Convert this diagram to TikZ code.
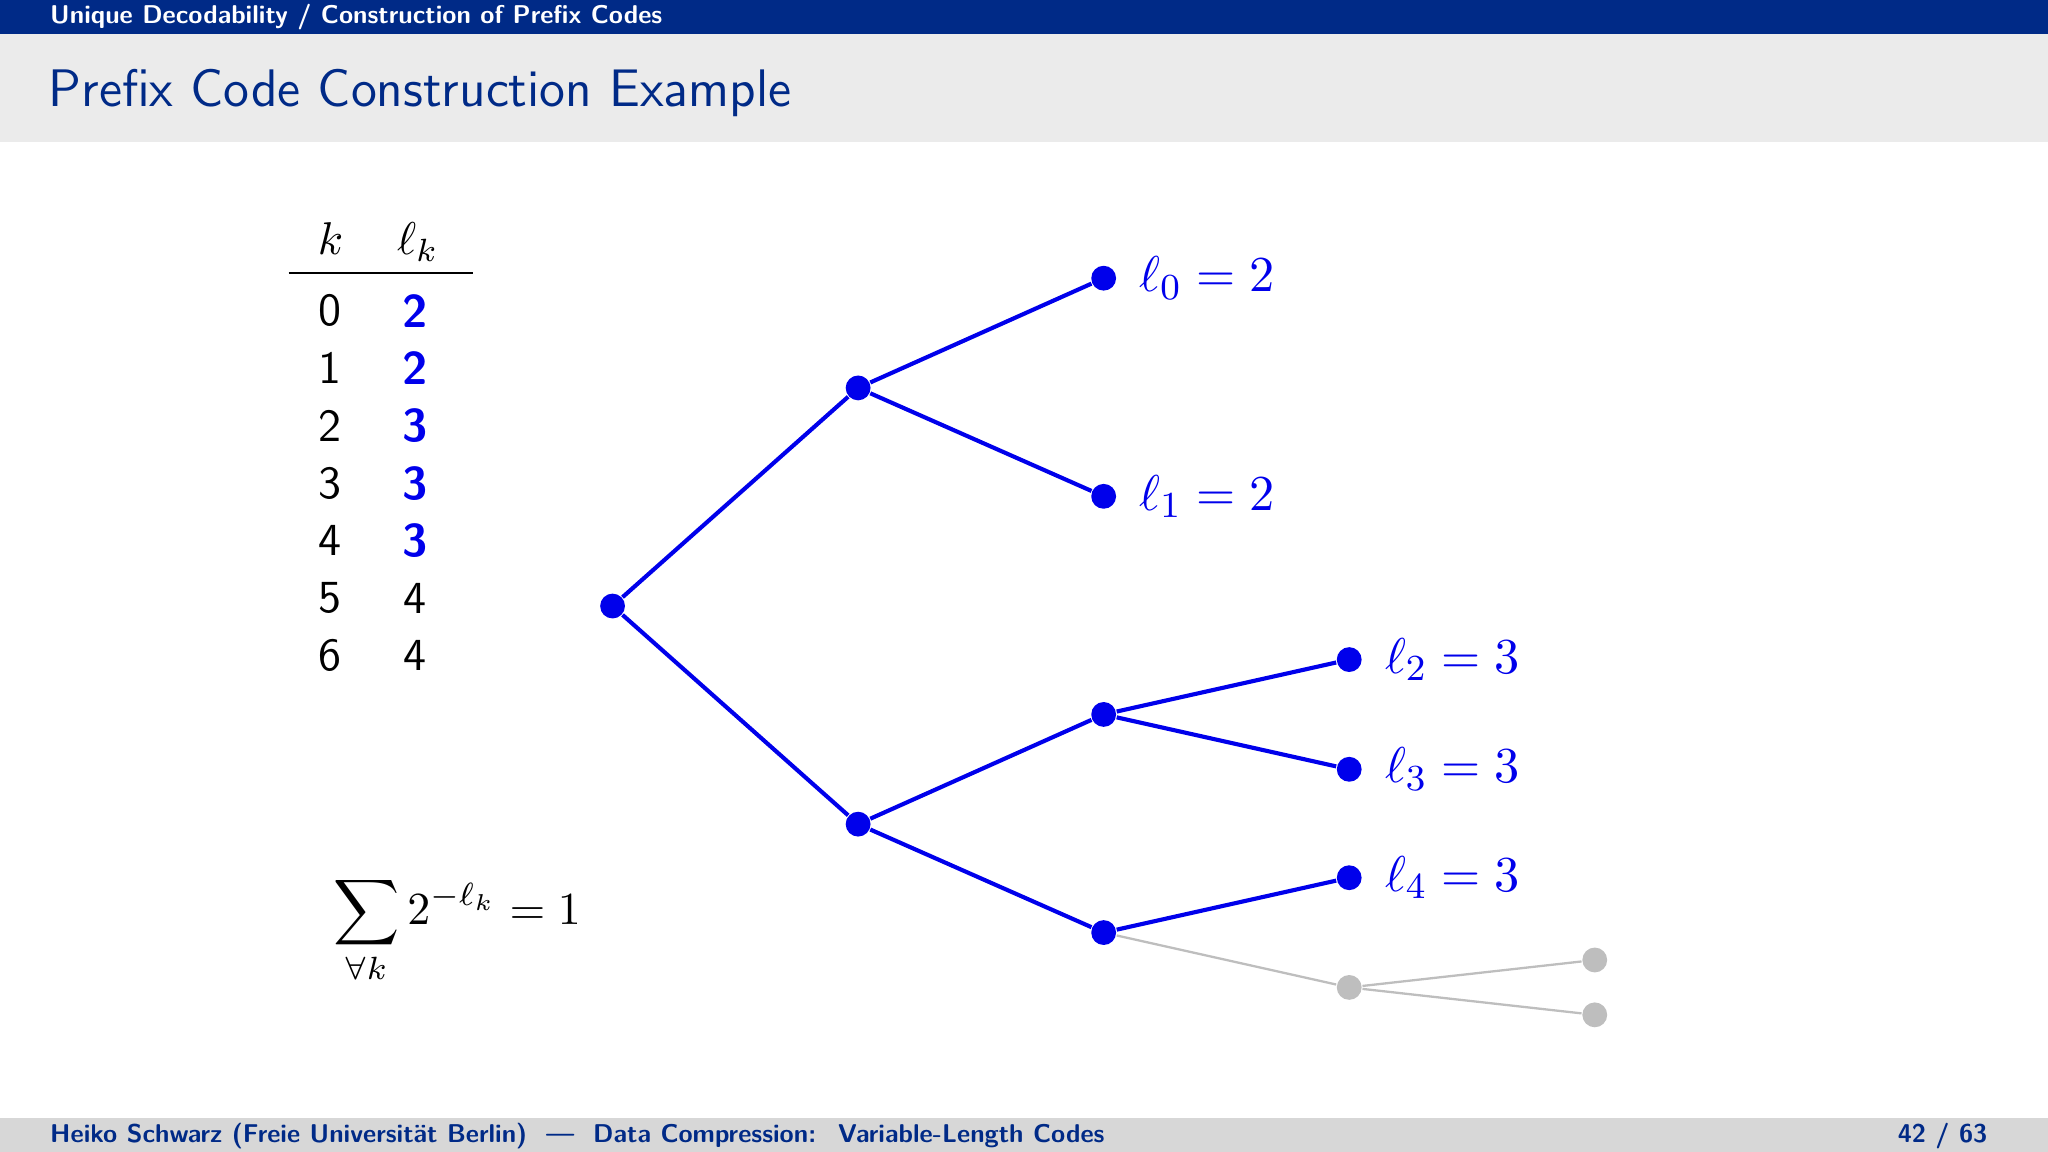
\documentclass[tikz,border=0pt]{standalone}
\usepackage{amsmath}
\definecolor{bar}{RGB}{0,42,135}
\definecolor{tb}{RGB}{235,235,235}
\definecolor{fb}{RGB}{215,215,215}
\definecolor{bl}{RGB}{0,0,235}
\definecolor{gr}{RGB}{190,190,190}
\tikzset{
 P/.style={x=0.01cm,y=-0.01cm},
 dotb/.style={circle,fill=bl,inner sep=0pt,minimum size=0.19cm},
 dotg/.style={circle,fill=gr,inner sep=0pt,minimum size=0.19cm},
 eb/.style={draw=bl,line width=0.9pt},
 eg/.style={draw=gr,line width=0.5pt},
 lab/.style={text=bl,anchor=west,font=\fontsize{11}{13}\selectfont},
 tt/.style={font=\fontsize{10}{12}\selectfont\sffamily},
}
\begin{document}
\begin{tikzpicture}[P]
\useasboundingbox (0,0) rectangle (1568,882);
\fill[bar] (0,0) rectangle (1568,26);
\fill[tb] (0,26) rectangle (1568,109);
\fill[fb] (0,856) rectangle (1568,882);
\node[anchor=west,text=white,font=\fontsize{5.6}{6}\selectfont\sffamily\bfseries] (hdr) at (26,13) {Unique Decodability / Construction of Prefix Codes};
\node[anchor=west,text=bar,font=\fontsize{11.5}{13}\selectfont\sffamily] (title) at (25,71) {Prefix Code Construction Example};
\node[anchor=west,text=bar,font=\fontsize{5.6}{6}\selectfont\sffamily\bfseries] (foot) at (26,870) {Heiko Schwarz (Freie Universit\"at Berlin) \ --- \ Data Compression: \ Variable-Length Codes};
\node[anchor=east,text=bar,font=\fontsize{5.6}{6}\selectfont\sffamily\bfseries] (pg) at (1534,870) {42 / 63};
% table
\node[tt] (hk) at (253,183) {$k$};
\node[tt] (hl) at (320,185) {$\ell_k$};
\draw[line width=0.4pt] (221,209) -- (362,209);
\foreach \k/\l/\c [count=\i from 0] in {0/2/1,1/2/1,2/3/1,3/3/1,4/3/1,5/4/0,6/4/0}{
  \node[tt] (k\i) at (253,238+44*\i) {\k};
  \ifnum\c=1 \node[tt,text=bl,font=\fontsize{10}{12}\selectfont\sffamily\bfseries] (l\i) at (318,238+44*\i) {\l};
  \else \node[tt] (l\i) at (318,238+44*\i) {\l}; \fi
}
\node[font=\fontsize{10}{12}\selectfont] (sum) at (350,712) {$\displaystyle\sum_{\forall k} 2^{-\ell_k} = 1$};
% tree
\node[dotb] (r) at (469,464) {};
\node[dotb] (a) at (657,297) {};
\node[dotb] (b) at (657,631) {};
\node[dotb] (a0) at (845,213) {};
\node[dotb] (a1) at (845,380) {};
\node[dotb] (b0) at (845,547) {};
\node[dotb] (b1) at (845,714) {};
\node[dotb] (c0) at (1033,505) {};
\node[dotb] (c1) at (1033,589) {};
\node[dotb] (c2) at (1033,672) {};
\node[dotg] (c3) at (1033,756) {};
\node[dotg] (d0) at (1221,735) {};
\node[dotg] (d1) at (1221,777) {};
\draw[eg] (b1) -- (c3); \draw[eg] (c3) -- (d0); \draw[eg] (c3) -- (d1);
\foreach \u/\v in {r/a,r/b,a/a0,a/a1,b/b0,b/b1,b0/c0,b0/c1,b1/c2}{\draw[eb] (\u) -- (\v);}
\node[lab] at (860,213) {$\ell_0 = 2$};
\node[lab] at (860,380) {$\ell_1 = 2$};
\node[lab] at (1048,505) {$\ell_2 = 3$};
\node[lab] at (1048,589) {$\ell_3 = 3$};
\node[lab] at (1048,672) {$\ell_4 = 3$};
\end{tikzpicture}
\end{document}
